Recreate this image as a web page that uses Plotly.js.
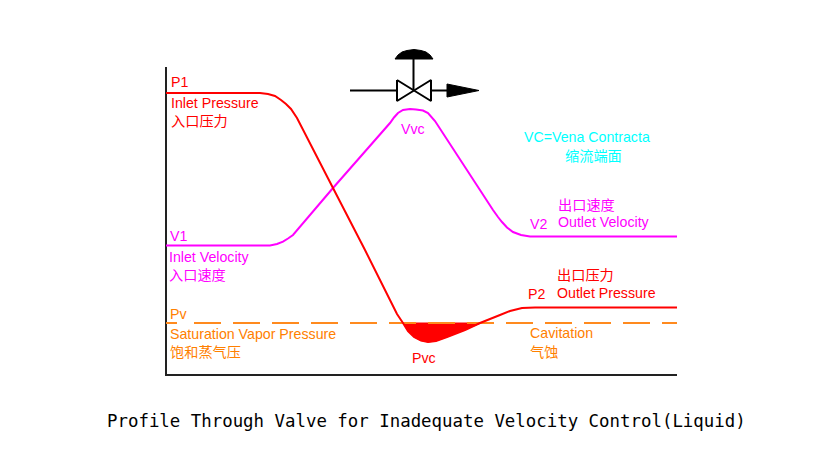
<!DOCTYPE html>
<html><head><meta charset="utf-8">
<script src="https://cdn.plot.ly/plotly-3.0.1.min.js"></script>
<style>html,body{margin:0;padding:0;background:#fff}#c{width:816px;height:452px}</style>
</head><body><div id="c"></div>
<script>
const pressureX=[166,260,268,275,281,286,291,297,333,365,390,397,403,408,414,421,428,436,447,465,480,500,510,522,535,677];
const pressureY=[93,93,94,96,100,104,109,118,188,250,300,314,323,331,337,340.5,342,341,337,330,323,315,311,308,307.5,307.5];
const velocityX=[166,262,270,277,283,288,293,333,390,394,398,403,410,416,423,428,435,493,498,502,507,513,521,530,677];
const velocityY=[245.5,245.5,245.5,244,241.7,238.5,235,188,123,117.5,113,110,109,109.5,110.5,113,121,210,217,222,227.5,232,235,236.5,236.5];
const vaporX=[166,177,null,194,677];
const vaporY=[323,323,null,323,323];
const cavX=[403,408,414,421,428,436,447,465,481,403];
const cavY=[323,331,337,340.5,342,341,337,330,323,323];
const axisX=[166,166,677];
const axisY=[67,375,375];
const pipeX=[350,397,null,431,448,null,413.5,413.5];
const pipeY=[90.5,90.5,null,90.5,90.5,null,59,90.5];
const bowX=[397,431,431,397,397];
const bowY=[80,101,80,101,80];
const domeX=[395,398,402,407,414,421,426,430,433,395];
const domeY=[59,55,52,50.5,49.5,50.5,52,55,59,59];
const arrowX=[447,479,447,447];
const arrowY=[84,90.5,97,84];

const redLabels=[["P1",171,82],["Inlet Pressure",171,103],["入口压力",171,121],["Pvc",412,358],["出口压力",557,275],["P2",528,294],["Outlet Pressure",557,293]];
const magentaLabels=[["Vvc",401,129],["V1",170,236],["Inlet Velocity",169,257],["入口速度",169,275],["出口速度",558,205],["V2",530,224],["Outlet Velocity",558,222]];
const orangeLabels=[["Pv",170,314],["Saturation Vapor Pressure",170,334],["饱和蒸气压",170,352],["Cavitation",530,333],["气蚀",530,352]];
const cyanLabels=[["VC=Vena Contracta",524,137],["缩流端面",565,156]];
const titleText="Profile Through Valve for Inadequate Velocity Control(Liquid)";

const line=(x,y,color,width,dash)=>({x,y,mode:'lines',type:'scatter',hoverinfo:'skip',line:{color,width,dash:dash||'solid',simplify:false}});
const fillShape=(x,y,color)=>({x,y,mode:'lines',type:'scatter',fill:'toself',fillcolor:color,hoverinfo:'skip',line:{color,width:1}});

const traces=[
 line(axisX,axisY,'#222222',2),
 fillShape(cavX,cavY,'#ff0000'),
 line(vaporX,vaporY,'#ff8a1e',2,'27px,12px'),
 line(velocityX,velocityY,'#ff00ff',2),
 line(pressureX,pressureY,'#ff0000',2),
 line(pipeX,pipeY,'#000000',2),
 line(bowX,bowY,'#000000',2),
 fillShape(domeX,domeY,'#000000'),
 fillShape(arrowX,arrowY,'#000000')
];
const font=(color,size,family)=>({color,size,family:family||'"Liberation Sans","Noto Sans CJK SC",sans-serif'});
const ann=(list,color)=>list.map(([text,x,y])=>({text,x,y,xref:'x',yref:'y',xanchor:'left',yanchor:'middle',showarrow:false,xshift:-2,font:font(color,14.2)}));
const annotations=[...ann(redLabels,'#ff0000'),...ann(magentaLabels,'#ff00ff'),...ann(orangeLabels,'#ff8000'),...ann(cyanLabels,'#00ffff'),
 {text:titleText,x:426,y:421,xref:'x',yref:'y',xanchor:'center',yanchor:'middle',showarrow:false,font:font('#000000',17.4,'"DejaVu Sans Mono",monospace')}];
Plotly.newPlot('c',traces,{
 width:816,height:452,showlegend:false,paper_bgcolor:'#fff',plot_bgcolor:'#fff',
 margin:{l:0,r:0,t:0,b:0},
 xaxis:{range:[0,816],visible:false,fixedrange:true},
 yaxis:{range:[452,0],visible:false,fixedrange:true},
 annotations
},{displayModeBar:false,staticPlot:true});
</script></body></html>
